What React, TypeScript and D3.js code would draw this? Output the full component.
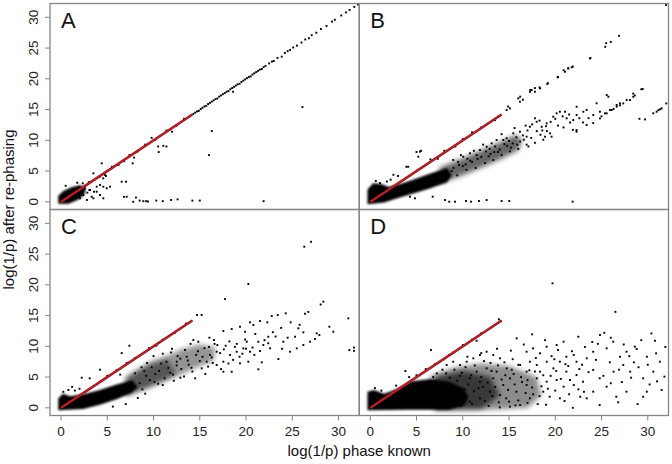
import { useEffect, useRef } from "react";
import * as d3 from "d3";

/**
 * Four scatter panels (A–D): log(1/p) after re-phasing vs. phase known.
 * Dense clouds near the origin are drawn as filled outlines, the rest as dots.
 */

const W = 672;
const H = 464;
const PANEL_W = 309.25;
const PANEL_H = 206;
const LEFTS = [50, 359.25];
const TOPS = [3.5, 209.5];
const FRAME = "#858585";
const RED = "#c1222b";

type Pt = [number, number];

const X_DOMAIN: Pt = [-1.19, 32.24];
const Y_DOMAIN: Pt = [-1.25, 32.25];
const X_TICKS = [0, 5, 10, 15, 20, 25, 30];
const Y_TICKS = [0, 5, 10, 15, 20, 25, 30];
const PANEL_LABELS = ["A", "B", "C", "D"];
const X_TITLE = "log(1/p) phase known";
const Y_TITLE = "log(1/p) after re-phasing";

// identity reference line (same in all panels)
const RED_LINE: Pt[] = [[0, 0], [14.2, 14.2]];

/* ---------- panel A ---------- */
const A_CORE: Pt[] = [[-0.3, -0.3], [0.8, -0.3], [1.8, 0.3], [2.5, 1.1], [2.7, 2.1], [2.1, 2.7], [1.2, 2.4], [0.3, 1.8], [-0.3, 1.0]];
const A_HAZE: Pt[][] = [];
const A_POINTS: Pt[] = [
  [1.51, 0.83], [2.05, 0.57], [2.41, 1.1], [2.85, 1.48], [3.32, 0.83], [3.57, 1.64], [2.05, 1.64], [2.59, 2.2], [3.06, 1.92],
  [3.86, 2.46], [4.22, 2.73], [4.57, 3.82], [4.86, 4.2], [2.35, 3.0], [1.76, 3.1], [3.5, 4.63], [4.4, 6.26], [6.56, 3.27],
  [7.03, 3.27], [4.57, 2.46], [4.94, 2.2], [5.3, 2.46], [3.14, 1.92], [3.86, 1.64], [4.22, 1.1], [3.5, 0.57], [4.57, 0.57],
  [7.1, 0.83], [7.8, 0.0], [8.9, 0.1], [9.4, 0.05], [7.75, 6.26], [6.2, 6.0], [4.76, 4.36], [1.2, 1.9], [0.5, 2.6], [1.0, 0.4],
  [2.8, 0.3], [1.9, 2.4],
  [5.5, 5.7], [6.2, 6.1], [7.4, 7.6], [8.3, 8.2], [9.1, 9.3], [10.2, 10.1], [11.4, 11.6], [12.5, 12.4], [13.3, 13.5], [3.0, 3.2],
  [4.2, 4.1], [10.5, 9.0], [11.06, 9.1], [11.4, 9.0], [10.56, 8.1], [9.8, 10.4], [12.0, 11.4], [7.9, 7.2], [6.8, 6.6],
  [26.1, 15.4], [16.3, 11.5], [16.0, 7.6], [18.6, 17.9],
  [6.8, 0.8], [8.1, 0.7], [8.5, 0.2], [9.2, 0.1], [10.3, 0.2], [11.0, 0.1], [11.9, 0.3], [12.6, 0.4], [14.2, 0.2], [15.0, 0.2], [21.9, 0.1],
  [14.3, 14.3], [14.5, 14.5], [14.7, 14.7], [14.9, 14.8], [15.1, 15.1], [15.3, 15.3], [15.5, 15.5], [15.7, 15.6], [15.9, 15.9],
  [16.1, 16.1], [16.3, 16.3], [16.5, 16.5], [16.7, 16.7], [16.9, 16.8], [17.1, 17.1], [17.3, 17.3], [17.5, 17.5], [17.7, 17.7],
  [17.9, 17.9], [18.1, 18.0], [18.3, 18.3], [18.5, 18.5], [18.7, 18.7], [18.9, 18.9], [19.1, 19.1], [19.3, 19.2], [19.5, 19.5],
  [19.7, 19.7], [19.9, 19.9], [20.1, 20.1], [20.3, 20.3], [20.5, 20.4], [20.7, 20.7], [20.9, 20.9], [21.1, 21.1], [21.3, 21.3],
  [21.5, 21.5], [21.7, 21.6], [21.9, 21.9], [22.1, 22.1], [22.5, 22.5], [22.8, 22.8], [23.0, 22.9], [23.4, 23.4], [23.86, 23.6],
  [24.2, 24.2], [24.5, 24.5], [24.76, 24.7], [25.1, 25.1], [25.5, 25.4], [26.0, 25.9], [26.4, 26.4], [26.8, 26.6], [27.1, 27.1],
  [27.6, 27.5], [28.1, 28.1], [28.7, 28.6], [29.3, 29.3], [29.6, 29.6], [30.3, 30.3], [30.8, 30.8], [31.2, 31.2], [31.7, 31.7], [32.1, 32.1],
];

/* ---------- panel B ---------- */
const B_CORE: Pt[] = [[-0.3, -0.4], [1.5, -0.1], [3, 0.6], [5, 1.5], [6.5, 2.2], [8.3, 3.2], [8.8, 4.3], [8.3, 5.5], [6.5, 4.6], [5, 3.8], [3.5, 3.0], [2, 2.4], [1.2, 2.9], [0.3, 3.0], [-0.3, 2.0]];
const B_HAZE: Pt[][] = [
  [[7.5, 3.0], [10, 4.3], [12, 5.6], [14, 6.9], [16, 8.4], [16.4, 10.0], [15.8, 10.9], [14, 9.7], [12, 8.4], [10, 7.1], [7.5, 5.6]],
];
const B_POINTS: Pt[] = [
  [13.84, 13.84], [14.74, 14.93], [15.1, 15.2], [16.0, 16.83], [16.18, 16.28], [17.26, 17.9], [17.45, 18.18], [17.8, 17.9],
  [18.35, 18.45], [19.14, 19.15], [20.26, 20.24], [21.05, 21.15], [21.41, 21.7], [21.77, 21.87], [23.75, 23.3], [25.4, 25.2],
  [25.5, 25.8], [26.0, 26.0], [26.9, 27.0], [31.97, 32.0], [14.9, 15.5], [16.2, 17.1], [16.5, 16.6], [17.3, 18.2], [17.8, 18.5],
  [18.3, 18.6], [19.2, 19.3], [20.3, 20.3], [20.9, 21.4], [21.4, 21.7], [21.9, 22.0], [23.8, 23.4],
  [5.0, 8.1], [5.5, 8.3], [3.9, 5.7], [3.0, 4.2], [2.5, 4.4], [1.05, 3.05], [5.37, 8.15], [5.19, 7.33], [4.1, 5.7], [8, 8.3],
  [10, 10.2], [12, 12.1], [13.5, 13.3], [9.2, 9.0], [11, 11.3], [6.5, 6.9], [7.3, 7.0], [1.8, 3.3], [0.6, 3.4], [2.2, 3.6],
  [8.97, 6.8], [10.05, 7.33], [10.78, 7.89], [11.86, 8.42], [12.58, 8.96], [13.12, 9.51], [13.66, 10.05], [14.38, 10.05],
  [14.74, 10.33], [15.46, 11.14], [16.18, 11.4], [16.9, 10.59], [17.26, 12.21], [17.8, 13.58], [17.99, 13.02], [18.53, 12.21],
  [18.89, 10.59], [19.07, 12.76], [19.43, 11.14], [19.78, 13.84], [20.15, 14.39], [20.5, 14.65], [21.05, 14.65], [21.23, 13.58],
  [21.95, 13.3], [22.31, 14.11], [22.31, 15.46], [23.03, 14.65], [23.39, 14.93], [24.11, 14.11], [24.83, 14.65], [25.37, 14.39],
  [25.91, 14.93],
  [9, 5.5], [9.5, 6.5], [10, 5.8], [10.5, 7], [11, 6.5], [11.5, 7.6], [12, 7.3], [12.5, 8.2], [13, 7.8], [13.5, 9], [14, 8.5],
  [14.5, 9.4], [15, 9.9], [15.2, 8.8], [15.8, 10.5], [16.5, 10.8], [17, 11.6], [16.2, 9.8], [18, 11.5], [17.5, 12.6], [18.3, 13.2],
  [19, 12.3], [19.5, 13], [20, 13.5], [20.8, 13.9], [21.5, 14.2], [17.1, 9.0], [18.4, 10.9], [19.1, 11.5], [15.6, 12.0],
  [14.2, 11.0], [16.8, 12.4], [13.4, 8.1], [12.2, 9.3], [11.2, 8.3], [9.8, 7.6], [8.8, 5.0], [10.3, 6.1], [11.6, 7.0], [12.9, 8.6],
  [14.8, 9.1], [15.9, 9.3],
  [8.4, 4.2], [9.4, 4.3], [10.4, 5.2], [11.4, 5.5], [12.4, 6.3], [13.3, 6.8], [14.2, 7.6], [15.1, 8.2], [16.0, 8.6], [16.9, 9.3],
  [17.8, 9.6], [18.7, 10.1], [19.6, 10.6], [9.6, 6.0], [10.8, 6.7], [12.8, 7.4], [13.8, 8.1], [15.4, 9.5], [16.6, 10.1],
  [17.4, 10.4], [18.6, 11.6], [20.3, 12.4], [20.9, 12.1], [21.6, 12.9], [22.6, 13.6], [23.6, 13.6],
  [22.3, 11.67], [21.9, 11.7], [22.3, 11.4], [23.39, 12.49], [24.1, 12.8], [24.47, 16.02], [25.56, 17.37], [25.74, 17.09],
  [26.64, 15.74], [26.99, 16.02], [27.72, 16.55], [28.43, 17.09], [29.45, 18.34], [24.83, 13.57], [25.56, 14.39], [26.1, 14.93],
  [26.64, 15.47], [27.35, 16.0], [28.08, 16.55], [28.43, 17.6], [28.6, 17.3], [29.3, 18.3], [23.0, 12.9], [25.0, 13.9],
  [26.3, 15.1], [27.0, 15.7],
  [29.1, 13.5], [29.7, 13.4], [30.6, 14.4], [30.96, 14.65], [31.14, 14.9], [31.32, 15.04], [31.5, 15.2], [32.0, 16.0],
  [6.75, 0.83], [8.08, 0.29], [8.54, 0.02], [9.16, 0.02], [10.35, 0.13], [10.89, 0.02], [11.75, 0.13], [12.58, 0.29],
  [14.2, 0.13], [15.03, 0.13], [21.88, 0.02], [4.29, 0.83], [4.83, 0.57],
];

/* ---------- panel C ---------- */
const C_CORE: Pt[] = [[-0.3, -0.4], [2.4, -0.2], [4.2, 0.5], [6.0, 1.4], [7.6, 2.4], [8.3, 3.4], [7.7, 4.5], [6.0, 3.8], [4.2, 2.9], [2.4, 2.2], [1.0, 1.9], [0.2, 2.3], [-0.3, 1.5]];
const C_HAZE: Pt[][] = [
  [[7.0, 1.9], [9.6, 3.3], [11.5, 4.5], [13.2, 5.6], [15, 6.8], [16.5, 7.6], [16.7, 9.8], [15, 10.3], [13.2, 9.6], [11.5, 8.5], [9.6, 7.5], [7.0, 5.0]],
  [[7.0, 2.0], [9.6, 3.5], [11.5, 4.8], [12.5, 5.6], [11.5, 7.8], [9.6, 7.0], [7.0, 4.8]],
];
const C_POINTS: Pt[] = [
  [0.25, 2.6], [2.24, 4.9], [3.1, 4.8], [4.22, 6.2], [6.56, 8.9], [7.39, 10.1], [0.8, 2.9], [1.5, 2.8], [1.2, 3.4], [2.0, 3.1],
  [5, 5.2], [6, 6.1], [8, 8.1], [9.5, 9.7], [11, 11.1], [12.3, 12.2], [13.5, 13.7], [14.7, 15.1], [15.2, 15.1], [10.3, 10.1], [7.1, 7.3],
  [17.73, 17.69], [20.25, 20.13], [26.3, 26.2], [27.03, 27.0], [28.07, 16.8], [28.36, 17.26], [26.38, 15.3], [26.74, 15.6],
  [31.06, 14.55], [31.17, 9.4], [31.67, 9.8], [31.67, 9.27],
  [16.04, 11.4], [16.54, 11.02], [17.55, 12.49], [18.45, 12.81], [19.35, 13.19], [19.89, 12.37], [20.43, 13.9], [20.79, 13.46],
  [21.51, 14.11], [22.3, 13.9], [22.78, 14.93], [23.43, 15.09], [24.29, 15.37], [24.83, 13.9], [25.66, 12.93], [26.2, 12.27],
  [27.64, 12.11], [29.01, 13.19], [29.44, 12.37], [25.3, 11.56], [24.76, 9.12], [25.48, 9.67], [26.2, 10.21], [26.92, 10.75],
  [27.46, 11.19], [27.93, 11.84], [23.5, 7.93], [21.33, 6.26], [22.41, 11.56], [24.03, 10.75], [21.87, 10.21], [20.43, 9.12],
  [19.71, 9.67], [18.99, 9.12], [18.27, 8.59], [17.55, 7.5], [16.83, 6.96], [20.08, 10.75], [21.33, 10.75], [22.6, 9.67],
  [21.51, 9.24], [20.25, 7.5], [19.35, 7.23], [18.45, 5.87], [17.55, 5.87], [15.75, 7.5], [15.21, 6.42], [16.11, 8.59],
  [14.3, 11.02], [14.84, 10.75], [16.83, 9.12], [13.59, 8.31], [12.51, 7.5],
  [8.5, 4.0], [9, 6.0], [9.6, 4.5], [10.2, 5.5], [10.8, 7.2], [11.2, 4.8], [11.6, 6.5], [12.1, 5.4], [12.6, 8.4], [13, 6.3],
  [13.4, 9.4], [13.8, 7.0], [14.2, 5.9], [14.6, 8.6], [15.0, 7.6], [15.5, 9.7], [15.9, 6.7], [16.3, 8.2], [16.6, 10.4],
  [17.2, 8.9], [17.8, 10.1], [18.1, 7.2], [18.8, 9.9], [19.3, 8.3], [19.9, 11.1], [20.7, 9.8], [21.0, 12.0], [22.0, 11.0],
  [22.9, 12.3], [23.8, 13.0], [24.5, 11.4], [25.8, 13.5], [9.3, 7.3], [10.5, 3.9], [11.9, 9.0], [12.9, 4.9], [14.0, 10.4],
  [7.0, 0.6], [5.6, 0.2], [8.3, 1.6], [9.1, 2.3], [6.4, 5.4],
  [8.8, 3.0], [9.2, 5.2], [9.8, 6.6], [10.1, 4.2], [10.6, 6.0], [11.0, 3.7], [11.4, 7.5], [11.8, 5.7], [12.2, 4.4], [12.5, 6.9],
  [12.9, 8.0], [13.3, 5.1], [13.7, 7.7], [14.1, 6.5], [14.5, 4.8], [14.8, 9.2], [15.3, 8.3], [15.6, 5.5], [16.0, 9.9], [16.4, 7.3],
  [16.9, 10.2], [17.3, 6.3], [17.6, 9.5], [18.2, 10.8], [18.6, 7.8], [19.0, 10.4], [19.6, 8.8], [20.0, 9.6], [20.9, 8.6],
  [21.7, 7.4], [22.4, 10.5], [23.2, 11.6], [23.9, 9.6], [10.0, 8.4], [11.0, 8.8], [12.0, 9.6], [8.0, 5.6], [8.7, 6.6],
];

/* ---------- panel D ---------- */
const D_CORE: Pt[] = [[-0.3, -0.4], [4, -0.3], [8.5, -0.3], [10.2, 0.4], [10.6, 1.8], [10.1, 3.2], [8.6, 4.2], [6.5, 4.7], [4.5, 4.3], [3, 3.1], [1.5, 2.3], [0.4, 2.9], [-0.3, 2.6]];
const D_HAZE: Pt[][] = [
  [[7, -0.3], [13, -0.3], [17, 0], [18.5, 2], [18, 5], [15, 6.8], [12, 7.2], [9, 6.5], [6.5, 5.2]],
  [[7, -0.3], [12, -0.2], [14, 2], [13, 5.0], [10, 6.0], [7, 5.0]],
];
const D_POINTS: Pt[] = [
  [19.7, 20.24], [26.5, 15.6], [17.5, 11.95], [6.56, 9.4], [3.8, 5.98], [11.5, 10.9], [13.9, 14.4], [21.9, 0.0],
  [5, 5.3], [7, 7.1], [8.5, 8.6], [10, 10.2], [12, 12.1], [9, 9.0], [11, 11.1], [6.0, 6.3], [2.8, 3.6], [1.2, 2.8], [0.5, 3.2], [4.2, 5.0],
  [15.83, 11.3], [22.49, 11.56], [24.83, 11.84], [25.3, 12.2], [30.78, 10.9], [30.9, 8.86], [29.9, 8.3], [28.6, 9.94],
  [28.8, 9.56], [27.7, 9.12], [27.0, 8.3], [26.27, 10.75], [25.55, 9.67], [24.1, 9.12], [23.4, 8.05], [22.3, 7.5], [21.2, 8.3],
  [20.5, 7.5], [20.9, 10.75], [20.15, 10.21], [19.07, 9.94], [18.35, 8.86], [17.6, 9.67], [16.9, 9.12], [19.07, 7.5],
  [18.0, 6.96], [17.25, 7.5], [16.2, 6.96], [16.9, 5.88], [18.35, 5.88], [19.8, 6.42], [21.2, 5.88], [22.3, 5.34], [24.1, 6.15],
  [24.8, 4.8], [26.3, 5.88], [27.35, 6.96], [28.1, 5.88], [29.5, 4.8], [30.6, 5.88], [31.3, 7.5], [31.8, 5.07], [31.5, 2.9],
  [29.5, 1.8], [29.9, 2.62], [27.7, 2.62], [26.6, 1.8], [25.55, 3.44], [24.1, 2.62], [22.7, 1.8], [20.5, 1.54], [19.4, 1.8],
  [18.7, 2.62], [17.25, 1.54], [16.2, 0.45], [15.1, 0.18], [14.0, 0.07], [14.7, 1.54], [15.8, 2.62], [16.9, 3.71], [18.0, 4.8],
  [19.07, 4.25], [20.15, 4.52], [20.9, 3.44], [21.6, 4.52], [23.0, 4.25], [23.4, 1.54], [24.8, 0.45],
  [9.7, 6.96], [10.42, 7.5], [11.14, 8.05], [11.86, 8.59], [12.58, 9.12], [13.3, 8.59], [14.03, 8.05], [11.5, 5.88], [12.58, 6.42],
  [13.66, 5.88], [14.75, 6.42], [8.97, 7.5], [8.26, 6.96], [10.78, 4.8], [11.86, 4.25], [13.3, 4.8], [14.38, 3.71], [15.1, 4.8],
  [12.94, 2.62], [14.03, 2.08], [11.86, 1.54], [10.78, 1.0], [9.7, 5.2], [10.2, 3.0], [12.2, 3.4], [13.0, 7.3], [15.4, 7.9],
  [16.0, 1.2], [17.6, 2.2], [18.5, 3.5], [17.0, 4.5], [15.5, 5.5], [19.5, 5.2], [20.0, 2.8], [21.5, 2.2], [22.5, 3.0], [23.6, 5.8],
  [25.9, 7.4], [27.2, 4.2], [28.5, 7.4], [30.2, 3.8], [26.8, 0.9], [28.9, 0.6], [23.2, 9.9], [21.8, 9.2], [24.6, 10.4],
  [29.3, 11.0], [31.9, 9.9], [30.4, 12.1],
  [8.2, 5.6], [8.6, 4.9], [9.1, 6.2], [9.4, 4.4], [9.9, 5.7], [10.3, 6.6], [10.6, 3.8], [10.9, 5.3], [11.3, 6.9], [11.7, 3.2],
  [12.0, 5.0], [12.3, 7.6], [12.7, 4.1], [13.1, 6.0], [13.5, 3.4], [13.8, 6.9], [14.2, 4.6], [14.5, 7.4], [14.9, 2.9], [15.3, 6.2],
  [15.6, 3.8], [16.0, 7.0], [16.4, 4.2], [16.8, 2.4], [17.2, 6.1], [17.5, 3.3], [17.9, 8.1], [18.3, 1.9], [18.7, 5.3], [19.2, 3.1],
  [19.6, 8.4], [20.1, 6.0], [20.6, 4.7], [21.0, 1.1], [21.4, 6.8], [22.0, 3.7], [22.6, 6.3], [23.1, 2.6], [9.0, 1.3], [10.1, 2.1],
  [11.0, 0.6], [12.4, 1.1], [13.2, 1.9], [13.9, 0.9], [15.0, 1.0], [15.7, 0.4], [17.0, 0.8], [18.1, 0.6], [19.0, 0.5], [12.8, 0.3],
  [9.8, 0.3], [10.5, 8.3], [12.0, 8.9], [13.7, 9.6], [7.8, 6.2], [7.2, 5.6], [6.8, 5.0], [8.9, 3.4], [11.2, 2.7], [14.6, 5.3],
  [16.3, 5.0], [17.8, 5.9], [19.9, 7.9], [21.1, 7.1], [22.9, 7.0], [24.4, 7.8], [25.2, 5.2], [26.0, 4.0], [26.9, 6.2], [28.2, 4.9],
  [29.0, 6.6], [30.0, 7.0], [31.0, 4.3], [28.0, 8.4], [27.4, 10.3], [26.0, 11.4], [24.0, 10.7], [22.0, 8.6], [20.3, 9.4],
  [18.9, 11.0], [16.6, 10.3], [15.2, 9.3],
];

const PANELS = [
  { label: PANEL_LABELS[0], col: 0, row: 0, core: A_CORE, haze: A_HAZE, hazeOpacity: [] as number[], points: A_POINTS },
  { label: PANEL_LABELS[1], col: 1, row: 0, core: B_CORE, haze: B_HAZE, hazeOpacity: [0.6], points: B_POINTS },
  { label: PANEL_LABELS[2], col: 0, row: 1, core: C_CORE, haze: C_HAZE, hazeOpacity: [0.42, 0.42], points: C_POINTS },
  { label: PANEL_LABELS[3], col: 1, row: 1, core: D_CORE, haze: D_HAZE, hazeOpacity: [0.45, 0.6], points: D_POINTS },
];

const FONT = "'Liberation Sans', Arial, Helvetica, sans-serif";

export default function App() {
  const svgRef = useRef<SVGSVGElement>(null);

  useEffect(() => {
    if (!svgRef.current) return;
    const svg = d3.select(svgRef.current);
    svg.selectAll("*").remove();

    const defs = svg.append("defs");
    defs.append("filter").attr("id", "soft").attr("x", "-20%").attr("y", "-20%").attr("width", "140%").attr("height", "140%")
      .append("feGaussianBlur").attr("stdDeviation", 2.6);
    defs.append("filter").attr("id", "edge").attr("x", "-10%").attr("y", "-10%").attr("width", "120%").attr("height", "120%")
      .append("feGaussianBlur").attr("stdDeviation", 0.8);

    PANELS.forEach((p, i) => {
      const left = LEFTS[p.col];
      const top = TOPS[p.row];
      const x = d3.scaleLinear().domain(X_DOMAIN).range([left, left + PANEL_W]);
      const y = d3.scaleLinear().domain(Y_DOMAIN).range([top + PANEL_H, top]);

      const clipId = `clip-${i}`;
      defs.append("clipPath").attr("id", clipId)
        .append("rect").attr("x", left).attr("y", top).attr("width", PANEL_W).attr("height", PANEL_H);

      const g = svg.append("g").attr("clip-path", `url(#${clipId})`);
      const poly = d3.line<Pt>().x((d) => x(d[0])).y((d) => y(d[1])).curve(d3.curveLinearClosed);

      p.haze.forEach((h, k) => {
        g.append("path").attr("d", poly(h)).attr("fill", "#000")
          .attr("fill-opacity", p.hazeOpacity[k]).attr("filter", "url(#soft)");
      });
      g.append("path").attr("d", poly(p.core)).attr("fill", "#000").attr("filter", "url(#edge)");

      g.selectAll("rect.pt").data(p.points).enter().append("rect")
        .attr("class", "pt")
        .attr("x", (d) => x(d[0]) - 0.95)
        .attr("y", (d) => y(d[1]) - 0.95)
        .attr("width", 1.9).attr("height", 1.9)
        .attr("fill", "#000");

      const line = d3.line<Pt>().x((d) => x(d[0])).y((d) => y(d[1]));
      g.append("path").attr("d", line(RED_LINE)).attr("stroke", "#8e1016").attr("stroke-width", 2.6).attr("fill", "none");
      g.append("path").attr("d", line(RED_LINE)).attr("stroke", RED).attr("stroke-width", 1.4).attr("fill", "none");

      svg.append("text")
        .attr("x", left + 11).attr("y", top + 24)
        .attr("font-family", FONT).attr("font-size", 22).attr("fill", "#111")
        .text(p.label);

      // left axis ticks for left column
      if (p.col === 0) {
        Y_TICKS.forEach((t) => {
          svg.append("line").attr("x1", left - 5).attr("x2", left).attr("y1", y(t)).attr("y2", y(t))
            .attr("stroke", FRAME).attr("stroke-width", 1);
          svg.append("text")
            .attr("transform", `translate(${left - 12},${y(t)}) rotate(-90)`)
            .attr("text-anchor", "middle")
            .attr("font-family", FONT).attr("font-size", 13.5).attr("fill", "#222")
            .text(t);
        });
      }
      // bottom axis ticks for bottom row
      if (p.row === 1) {
        X_TICKS.forEach((t) => {
          svg.append("line").attr("x1", x(t)).attr("x2", x(t)).attr("y1", top + PANEL_H).attr("y2", top + PANEL_H + 5)
            .attr("stroke", FRAME).attr("stroke-width", 1);
          svg.append("text")
            .attr("x", x(t)).attr("y", top + PANEL_H + 20)
            .attr("text-anchor", "middle")
            .attr("font-family", FONT).attr("font-size", 13.5).attr("fill", "#222")
            .text(t);
        });
      }
    });

    // panel frames
    PANELS.forEach((p) => {
      svg.append("rect")
        .attr("x", LEFTS[p.col]).attr("y", TOPS[p.row])
        .attr("width", PANEL_W).attr("height", PANEL_H)
        .attr("fill", "none").attr("stroke", FRAME).attr("stroke-width", 1.3);
    });

    svg.append("text")
      .attr("x", LEFTS[1]).attr("y", 456)
      .attr("text-anchor", "middle")
      .attr("font-family", FONT).attr("font-size", 15).attr("fill", "#111")
      .text(X_TITLE);

    svg.append("text")
      .attr("transform", `translate(14,${TOPS[1]}) rotate(-90)`)
      .attr("text-anchor", "middle")
      .attr("font-family", FONT).attr("font-size", 15).attr("fill", "#111")
      .text(Y_TITLE);
  }, []);

  return (
    <svg
      ref={svgRef}
      width={W}
      height={H}
      style={{ position: "absolute", left: 0, top: 0, background: "#fff" }}
    />
  );
}
